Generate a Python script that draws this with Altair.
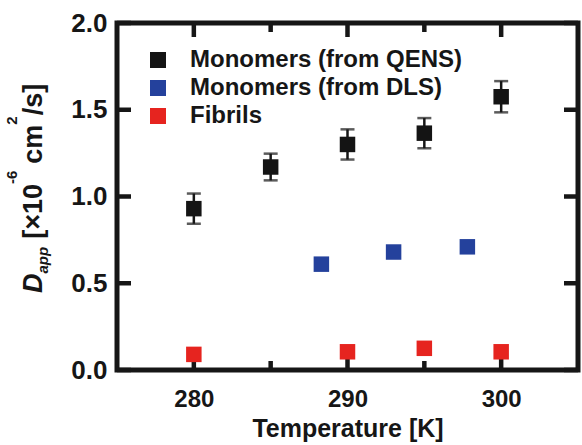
import altair as alt
import pandas as pd

# ---- data -----------------------------------------------------------------
series_names = ["Monomers (from QENS)", "Monomers (from DLS)", "Fibrils"]
series_colors = ["#141414", "#24419c", "#e6241f"]

temp_qens = [280, 285, 290, 295, 300]
d_qens = [0.93, 1.17, 1.30, 1.365, 1.575]
err_qens = [0.087, 0.077, 0.087, 0.087, 0.09]

temp_dls = [288.3, 293.0, 297.8]
d_dls = [0.61, 0.68, 0.71]

temp_fib = [280, 290, 295, 300]
d_fib = [0.09, 0.105, 0.125, 0.105]

x_major = [280, 290, 300]
x_minor = [285, 295]
y_major = [0.0, 0.5, 1.0, 1.5, 2.0]

# ---- layout ---------------------------------------------------------------
W, H = 461, 347
FONT = "Liberation Sans"
INK = "#161616"

points = pd.concat([
    pd.DataFrame({"T": temp_qens, "D": d_qens, "series": series_names[0]}),
    pd.DataFrame({"T": temp_dls, "D": d_dls, "series": series_names[1]}),
    pd.DataFrame({"T": temp_fib, "D": d_fib, "series": series_names[2]}),
], ignore_index=True)

errs = pd.DataFrame({
    "T": temp_qens,
    "lo": [d - e for d, e in zip(d_qens, err_qens)],
    "hi": [d + e for d, e in zip(d_qens, err_qens)],
})

xs = alt.Scale(domain=[275, 305], nice=False, zero=False)
ys = alt.Scale(domain=[0, 2], nice=False, zero=False)

x_axis = alt.Axis(
    values=x_major, format="d", grid=False, domain=False, ticks=False, tickSize=0,
    labelFont=FONT, labelFontSize=24, labelFontWeight="bold", labelColor=INK,
    labelPadding=17, title="Temperature [K]", titleFont=FONT, titleFontSize=25,
    titleFontWeight="bold", titleColor=INK, titleBaseline="alphabetic", titleY=66,
)
y_axis = alt.Axis(
    values=y_major, format=".1f", grid=False, domain=False, ticks=False, tickSize=0,
    labelFont=FONT, labelFontSize=26, labelFontWeight="bold", labelColor=INK,
    labelPadding=10, title=None,
)


def xenc(field):
    return alt.X(f"{field}:Q", scale=xs, axis=x_axis)


def yenc(field):
    return alt.Y(f"{field}:Q", scale=ys, axis=y_axis)


# inward frame ticks
tick_style = dict(color=INK, strokeWidth=4.5)
tx_major = pd.DataFrame({"t": x_major})
tx_minor = pd.DataFrame({"t": x_minor})
ty = pd.DataFrame({"v": y_major})

ticks = [
    alt.Chart(tx_major).mark_rule(**tick_style).encode(
        x=xenc("t"), y=alt.value(H), y2=alt.value(H - 14)),
    alt.Chart(tx_major).mark_rule(**tick_style).encode(
        x=xenc("t"), y=alt.value(0), y2=alt.value(14)),
    alt.Chart(tx_minor).mark_rule(**tick_style).encode(
        x=xenc("t"), y=alt.value(H), y2=alt.value(H - 9)),
    alt.Chart(tx_minor).mark_rule(**tick_style).encode(
        x=xenc("t"), y=alt.value(0), y2=alt.value(9)),
    alt.Chart(ty).mark_rule(**tick_style).encode(
        y=yenc("v"), x=alt.value(0), x2=alt.value(14)),
    alt.Chart(ty).mark_rule(**tick_style).encode(
        y=yenc("v"), x=alt.value(W), x2=alt.value(W - 14)),
]

# error bars for the QENS points
err_line = alt.Chart(errs).mark_rule(color=INK, strokeWidth=2.5).encode(
    x=xenc("T"), y=yenc("lo"), y2="hi")
cap_lo = alt.Chart(errs).mark_tick(color=INK, orient="horizontal", size=14, thickness=2.5).encode(
    x=xenc("T"), y=yenc("lo"))
cap_hi = alt.Chart(errs).mark_tick(color=INK, orient="horizontal", size=14, thickness=2.5).encode(
    x=xenc("T"), y=yenc("hi"))

squares = alt.Chart(points).mark_square(size=240, opacity=1, strokeWidth=0).encode(
    x=xenc("T"),
    y=yenc("D"),
    color=alt.Color(
        "series:N",
        scale=alt.Scale(domain=series_names, range=series_colors),
        legend=alt.Legend(
            title=None, orient="none", legendX=29, legendY=25,
            symbolType="square", symbolSize=256, symbolStrokeWidth=0, symbolOpacity=1,
            labelFont=FONT, labelFontSize=24, labelFontWeight="bold", labelColor=INK,
            labelOffset=20, labelLimit=400, rowPadding=4, padding=0,
        ),
    ),
)

# y-axis title assembled from pieces: italic D with subscript, superscripts.
# Each piece: (text, font size, style, baseline x, gap before it in em of MAIN)
BW = {"D": 0.722, "a": 0.556, "p": 0.611, "[": 0.333, "\u00d7": 0.584,
      "1": 0.556, "0": 0.556, "-": 0.333, "6": 0.556, "c": 0.556, "m": 0.889,
      "2": 0.556, "/": 0.278, "s": 0.556, "]": 0.333}
MAIN, SMALL = 27, 15
BASE, SUB, SUP = -75, -69, -100
pieces = [
    ("D", MAIN, "italic", BASE, 0.0),
    ("app", SMALL, "italic", SUB, 0.0),
    ("[\u00d710", MAIN, "normal", BASE, 0.3),
    ("-6", SMALL, "normal", SUP, 0.0),
    ("cm", MAIN, "normal", BASE, 0.25),
    ("2", SMALL, "normal", SUP, 0.0),
    ("/s]", MAIN, "normal", BASE, 0.05),
]
one_row = pd.DataFrame({"k": [0]})
title_layers = []
pos = 270.0
for txt, fs, style, bx, gap in pieces:
    pos -= gap * MAIN
    title_layers.append(
        alt.Chart(one_row).mark_text(
            angle=270, align="left", baseline="alphabetic", font=FONT,
            fontSize=fs, fontStyle=style, fontWeight="bold", color=INK,
        ).encode(x=alt.value(bx), y=alt.value(pos), text=alt.value(txt))
    )
    pos -= fs * sum(BW[c] for c in txt)

chart = alt.layer(
    *ticks, err_line, cap_lo, cap_hi, squares, *title_layers
).properties(
    width=W, height=H,
    padding={"left": 117, "top": 23, "right": 4, "bottom": 75},
    autosize=alt.AutoSizeParams(type="none"),
    background="white",
).configure_view(
    stroke=INK, strokeWidth=5,
)

chart.save("out.html", embed_options={"renderer": "svg", "actions": False})
